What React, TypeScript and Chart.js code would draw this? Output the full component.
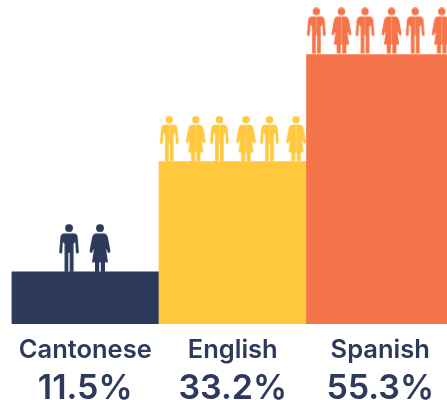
import React, { useEffect, useRef } from "react";
import { Chart, registerables } from "chart.js";

Chart.register(...registerables);

const categories = ["Cantonese", "English", "Spanish"];
const shareLabels = ["11.5%", "33.2%", "55.3%"];
const barValues = [10.7, 33.3, 55.3];
const colors = ["#2D3A5B", "#FFC83D", "#F6744A"];

// person positions, in bar widths from the left of the first bar
const cantonesePeople = [0.39, 0.6];
const englishPeople = [1.07, 1.25, 1.41, 1.59, 1.75, 1.93];
const spanishPeople = [2.07, 2.24, 2.4, 2.58, 2.74, 2.92];
const peopleSets = [cantonesePeople, englishPeople, spanishPeople];
const iconSizes = [1, 0.95, 0.96];

function personIcon(color: string, woman: boolean, size: number) {
  const W = 24, H = 48;
  const c = document.createElement("canvas");
  c.width = Math.ceil(W * size);
  c.height = Math.ceil(H * size) * 2;
  const g = c.getContext("2d")!;
  g.scale(size, size);
  g.translate(W / 2, 0);
  g.fillStyle = color;
  g.beginPath();
  g.arc(0, 4.2, 3.9, 0, Math.PI * 2);
  g.fill();
  const side = (s: number) => {
    g.beginPath();
    if (woman) {
      g.moveTo(0, 9.5);
      g.lineTo(s * 4.5, 9.5);
      g.quadraticCurveTo(s * 7, 10, s * 7.8, 13);
      g.lineTo(s * 10.4, 27);
      g.quadraticCurveTo(s * 10.5, 29, s * 8.8, 29);
      g.lineTo(s * 7.6, 28.5);
      g.lineTo(s * 6.8, 25);
      g.lineTo(s * 6.3, 27);
      g.lineTo(s * 8, 38.5);
      g.lineTo(s * 5, 38.5);
      g.lineTo(s * 5, 48);
      g.lineTo(s * 0.8, 48);
      g.lineTo(s * 0.8, 38.5);
      g.lineTo(0, 38.5);
    } else {
      g.moveTo(0, 9.5);
      g.lineTo(s * 5, 9.5);
      g.quadraticCurveTo(s * 8, 9.8, s * 8.6, 13);
      g.lineTo(s * 9.8, 28);
      g.quadraticCurveTo(s * 9.6, 30, s * 8, 29.5);
      g.lineTo(s * 7, 29.5);
      g.lineTo(s * 6.2, 18);
      g.lineTo(s * 4.5, 20);
      g.lineTo(s * 4.5, 48);
      g.lineTo(s * 0.7, 48);
      g.lineTo(s * 0.7, 29);
      g.lineTo(0, 29);
    }
    g.closePath();
    g.fill();
  };
  side(1);
  side(-1);
  return c;
}

export default function App() {
  const ref = useRef<HTMLCanvasElement>(null);
  useEffect(() => {
    const people = peopleSets.map((xs, i) => ({
      type: "scatter" as const,
      xAxisID: "xp",
      yAxisID: "y",
      data: xs.map((x) => ({ x, y: barValues[i] })),
      pointRadius: 1,
      clip: false,
      pointStyle: xs.map((_, j) => personIcon(colors[i], j % 2 === 1, iconSizes[i])),
    }));
    const chart = new Chart(ref.current!, {
      data: {
        labels: categories,
        datasets: [
          {
            type: "bar" as const,
            data: barValues,
            backgroundColor: colors,
            xAxisID: "x",
            yAxisID: "y",
            barPercentage: 1,
            categoryPercentage: 1,
            grouped: false,
            borderWidth: 0,
          },
          ...people,
        ],
      } as any,
      options: {
        animation: false,
        responsive: false,
        layout: { padding: { left: 11.5, right: 6, top: 0, bottom: 0 } },
        plugins: { legend: { display: false }, tooltip: { enabled: false } },
        scales: {
          y: { display: false, min: 0, max: 65.45 },
          xp: { type: "linear", display: false, min: 0, max: 3 },
          x: {
            type: "category",
            position: "bottom",
            offset: true,
            grid: { display: false },
            border: { display: false },
            ticks: {
              color: colors[0],
              maxRotation: 0,
              autoSkip: false,
              padding: 3,
              font: { family: "Inter", size: 25.5, weight: 600 },
            },
            afterFit: (s: any) => { s.height = 43; },
          },
          x2: {
            type: "category",
            position: "bottom",
            offset: true,
            labels: shareLabels,
            grid: { display: false },
            border: { display: false },
            ticks: {
              color: colors[0],
              maxRotation: 0,
              autoSkip: false,
              padding: -7,
              font: { family: "Inter", size: 34, weight: 600 },
            },
            afterFit: (s: any) => { s.height = 33; },
          },
        },
      } as any,
    });
    return () => chart.destroy();
  }, []);
  return (
    <div style={{ position: "fixed", left: 0, top: 0, width: 447, height: 400, overflow: "hidden", background: "#fff" }}>
      <canvas ref={ref} width={460} height={400} style={{ display: "block", width: 460, height: 400 }} />
    </div>
  );
}
